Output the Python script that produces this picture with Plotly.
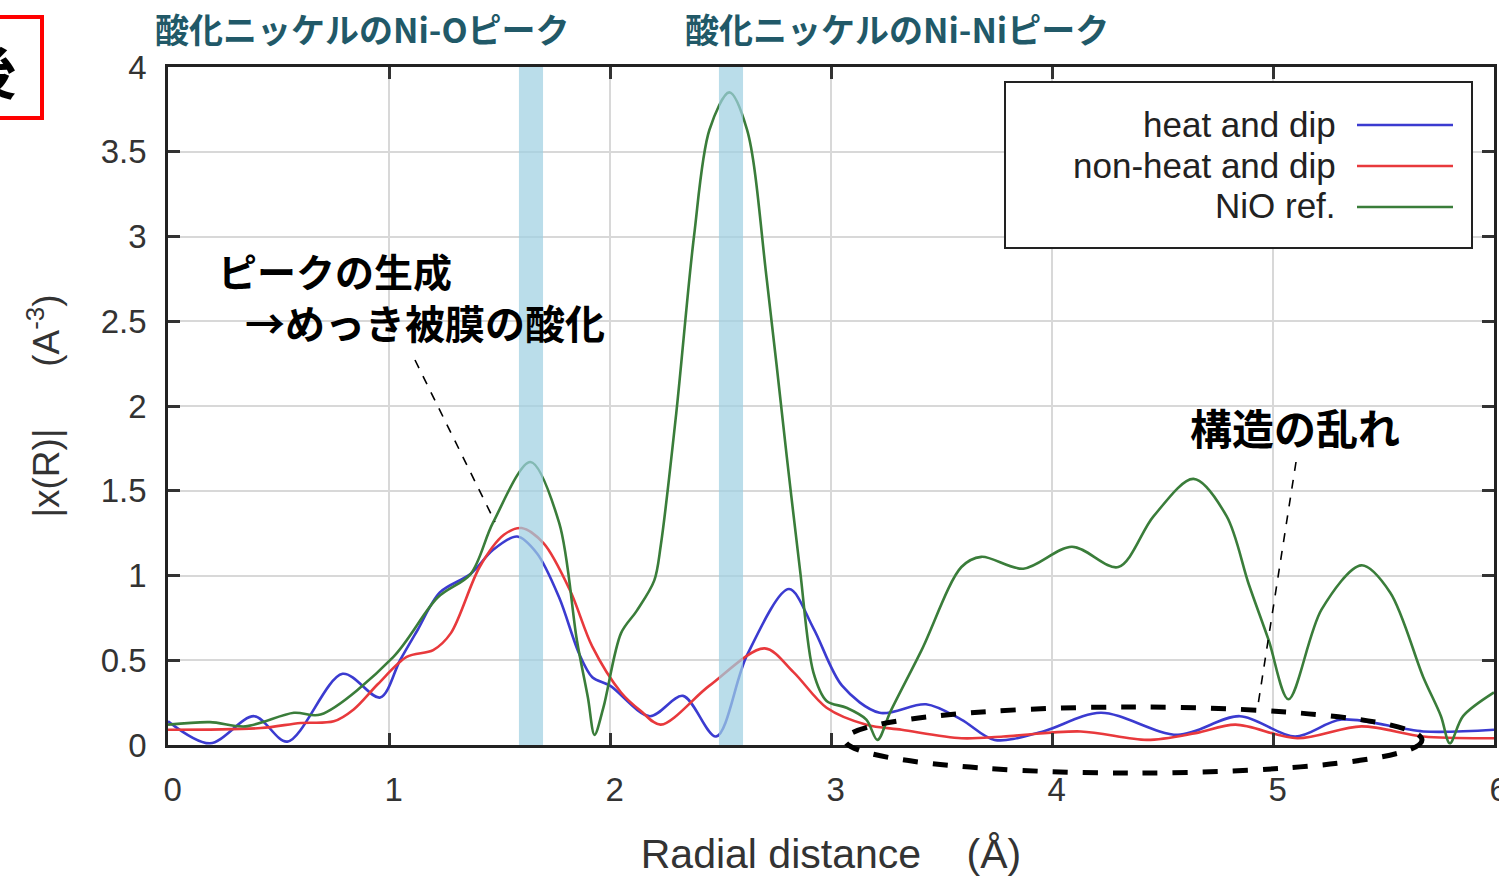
import plotly.graph_objects as go

# ---------------- data ----------------
green_x = [0, 0.19, 0.35, 0.57, 0.69, 1.02, 1.22, 1.37, 1.47, 1.64, 1.77, 1.85, 1.90, 1.93, 1.97,
           2.05, 2.12, 2.20, 2.23, 2.30, 2.38, 2.45, 2.54, 2.62, 2.71, 2.80, 2.86, 2.92, 2.98, 3.07,
           3.16, 3.21, 3.27, 3.41, 3.59, 3.68, 3.87, 4.09, 4.30, 4.46, 4.64, 4.79, 4.89, 4.98, 5.07,
           5.22, 5.40, 5.53, 5.68, 5.76, 5.80, 5.86, 6.0]
green_y = [0.12, 0.135, 0.11, 0.19, 0.18, 0.52, 0.87, 1.01, 1.31, 1.67, 1.31, 0.62, 0.28, 0.06, 0.22,
           0.66, 0.79, 0.97, 1.18, 1.96, 3.0, 3.63, 3.85, 3.63, 2.74, 1.70, 1.03, 0.43, 0.26, 0.22,
           0.15, 0.03, 0.20, 0.56, 1.05, 1.11, 1.04, 1.17, 1.05, 1.35, 1.57, 1.35, 0.95, 0.62, 0.27,
           0.80, 1.06, 0.90, 0.40, 0.17, 0.01, 0.17, 0.31]

blue_x = [0, 0.19, 0.39, 0.54, 0.79, 0.96, 1.05, 1.13, 1.23, 1.37, 1.47, 1.58, 1.67, 1.77, 1.86,
          1.92, 2.0, 2.18, 2.33, 2.48, 2.62, 2.81, 2.92, 3.05, 3.22, 3.43, 3.59, 3.74, 3.96, 4.22,
          4.57, 4.85, 5.10, 5.31, 5.68, 6.0]
blue_y = [0.14, 0.01, 0.17, 0.02, 0.42, 0.28, 0.50, 0.68, 0.90, 1.01, 1.15, 1.23, 1.13, 0.87, 0.54,
          0.40, 0.35, 0.17, 0.29, 0.05, 0.53, 0.92, 0.69, 0.35, 0.19, 0.24, 0.15, 0.03, 0.08, 0.19,
          0.06, 0.17, 0.05, 0.15, 0.08, 0.09]

red_x = [0, 0.42, 0.6, 0.75, 0.84, 0.95, 1.08, 1.20, 1.28, 1.41, 1.52, 1.60, 1.70, 1.82, 1.92,
         2.05, 2.14, 2.23, 2.45, 2.70, 2.83, 2.98, 3.16, 3.32, 3.59, 3.78, 4.13, 4.43, 4.65, 4.83,
         5.11, 5.40, 5.68, 6.0]
red_y = [0.09, 0.10, 0.13, 0.14, 0.21, 0.36, 0.52, 0.56, 0.66, 1.05, 1.24, 1.28, 1.19, 0.91, 0.58,
         0.31, 0.20, 0.12, 0.35, 0.57, 0.43, 0.22, 0.12, 0.09, 0.04, 0.05, 0.08, 0.03, 0.07, 0.12,
         0.04, 0.11, 0.05, 0.04]

series_names = ["heat and dip", "non-heat and dip", "NiO ref."]
series_colors = ["#3b3bd0", "#e8393c", "#3a7d3a"]

bands = [(1.588, 1.697), (2.493, 2.602)]  # highlighted Ni-O and Ni-Ni peak regions

x_ticks = [0, 1, 2, 3, 4, 5, 6]
x_tick_text = ["0", "1", "2", "3", "4", "5", "6"]
y_ticks = [0, 0.5, 1, 1.5, 2, 2.5, 3, 3.5, 4]
y_tick_text = ["0", "0.5", "1", "1.5", "2", "2.5", "3", "3.5", "4"]

# ---------------- layout helpers ----------------
W, H = 1499, 877
L, R, T, B = 168, 5, 67, 132
PW, PH = W - L - R, H - T - B


def px(xp):
    return (xp - L) / PW


def py(yp):
    return (H - B - yp) / PH


AX_FONT = "Liberation Sans, Arial, sans-serif"
JP_FONT = "Noto Sans CJK JP, sans-serif"

fig = go.Figure()
for xs, ys, name, col in [(blue_x, blue_y, series_names[0], series_colors[0]),
                          (red_x, red_y, series_names[1], series_colors[1]),
                          (green_x, green_y, series_names[2], series_colors[2])]:
    fig.add_trace(go.Scatter(x=xs, y=ys, mode="lines", name=name, showlegend=False,
                             line=dict(color=col, width=2.6, shape="spline", smoothing=0.9)))

shapes = []
for x0, x1 in bands:
    shapes.append(dict(type="rect", xref="x", yref="paper", x0=x0, x1=x1, y0=0, y1=1,
                       fillcolor="#9fd0e2", opacity=0.72, line=dict(width=0), layer="above"))

# custom legend (samples on the right of the labels, as in the reference)
shapes.append(dict(type="rect", xref="paper", yref="paper", x0=px(1005), x1=px(1472),
                   y0=py(248), y1=py(82), line=dict(color="#222", width=2),
                   fillcolor="white", layer="above"))
annotations = []
leg_y = [124, 165, 206]
for name, col, yy in zip(series_names, series_colors, leg_y):
    shapes.append(dict(type="line", xref="paper", yref="paper", x0=px(1357), x1=px(1453),
                       y0=py(yy + 1), y1=py(yy + 1), line=dict(color=col, width=2.5), layer="above"))
    annotations.append(dict(text=name, xref="paper", yref="paper", x=px(1338), y=py(yy),
                            xanchor="right", yanchor="middle", showarrow=False,
                            font=dict(family=AX_FONT, size=35, color="#222")))

# callout dashed lines and ellipse
shapes.append(dict(type="line", xref="paper", yref="paper", x0=px(415), y0=py(360),
                   x1=px(495), y1=py(522), line=dict(color="black", width=1.6, dash="dash"), layer="above"))
shapes.append(dict(type="line", xref="paper", yref="paper", x0=px(1296), y0=py(462),
                   x1=px(1258), y1=py(705), line=dict(color="black", width=1.6, dash="dash"), layer="above"))
shapes.append(dict(type="circle", xref="paper", yref="paper", x0=px(845), x1=px(1422),
                   y0=py(773), y1=py(707), line=dict(color="black", width=5, dash="dash"), layer="above"))

# red box at top-left (cropped slide element)
shapes.append(dict(type="rect", xref="paper", yref="paper", x0=px(-20), x1=px(42),
                   y0=py(118), y1=py(17), line=dict(color="#ff0000", width=4), layer="above"))
annotations.append(dict(text="<b>後</b>", xref="paper", yref="paper", x=px(-14), y=py(68),
                        xanchor="center", yanchor="middle", showarrow=False,
                        font=dict(family=JP_FONT, size=60, color="black")))

# titles over the peaks
TEAL = "#215968"
annotations.append(dict(text="<b>酸化ニッケルのNi-Oピーク</b>", xref="paper", yref="paper",
                        x=px(153), y=py(28), xanchor="left", yanchor="middle", showarrow=False,
                        font=dict(family=JP_FONT, size=34, color=TEAL)))
annotations.append(dict(text="<b>酸化ニッケルのNi-Niピーク</b>", xref="paper", yref="paper",
                        x=px(683), y=py(28), xanchor="left", yanchor="middle", showarrow=False,
                        font=dict(family=JP_FONT, size=34, color=TEAL)))

# callout texts
for txt, xl, yc, sz in [("ピークの生成", 216, 270, 39), ("→めっき被膜の酸化", 243, 322, 40),
                        ("構造の乱れ", 1188, 427, 42)]:
    annotations.append(dict(text="<b>" + txt + "</b>", xref="paper", yref="paper",
                            x=px(xl), y=py(yc), xanchor="left", yanchor="middle", showarrow=False,
                            font=dict(family=JP_FONT, size=sz, color="black")))

fig.update_layout(
    width=W, height=H,
    margin=dict(l=L, r=R, t=T, b=B, autoexpand=False),
    paper_bgcolor="white", plot_bgcolor="white",
    shapes=shapes, annotations=annotations,
    showlegend=False,
)
fig.update_xaxes(range=[0, 6], tickvals=x_ticks, ticktext=["\u00a0" + t for t in x_tick_text],
                 ticks="inside", ticklen=12, tickwidth=2.5, ticklabeloverflow="allow",
                 tickcolor="#333", showline=True, linecolor="#222", linewidth=2.5, mirror="ticks",
                 showgrid=True, gridcolor="#d8d8d8", gridwidth=2, zeroline=False,
                 tickfont=dict(family=AX_FONT, size=33, color="#333"), ticklabelstandoff=14,
                 title=dict(text="Radial distance\u00a0\u00a0\u00a0\u00a0(Å)", standoff=32,
                            font=dict(family=AX_FONT, size=41, color="#333")))
fig.update_yaxes(range=[0, 4], tickvals=y_ticks, ticktext=y_tick_text, ticks="inside", ticklen=12,
                 tickwidth=2.5, tickcolor="#333", showline=True, linecolor="#222", linewidth=2.5,
                 mirror="ticks", showgrid=True, gridcolor="#d8d8d8", gridwidth=2, zeroline=False,
                 tickfont=dict(family=AX_FONT, size=33, color="#333"), ticklabelstandoff=12,
                 title=dict(text="|x(R)|\u00a0\u00a0\u00a0\u00a0\u00a0\u00a0(A<sup>-3</sup>)", standoff=30,
                            font=dict(family=AX_FONT, size=37, color="#333")))

fig.write_html("out.html")
